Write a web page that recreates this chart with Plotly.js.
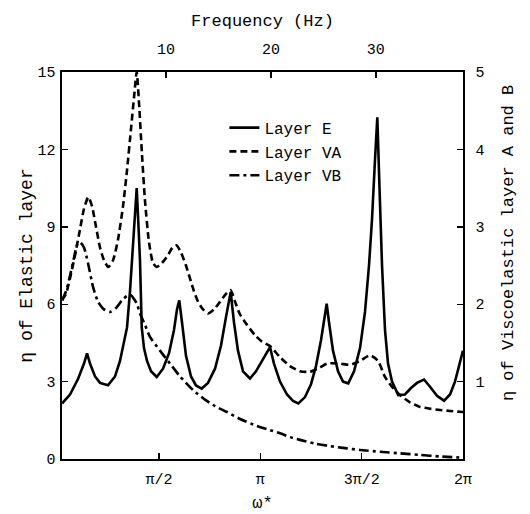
<!DOCTYPE html>
<html>
<head>
<meta charset="utf-8">
<script src="https://cdn.plot.ly/plotly-3.0.1.min.js"></script>
<style>html,body{margin:0;padding:0;background:#fff;}#chart{width:530px;height:514px;}</style>
</head>
<body>
<div id="chart"></div>
<script>
// omega* (rad) and eta of elastic layer E (left axis)
const omegaE = [0.067,0.191,0.315,0.408,0.455,0.501,0.579,0.656,0.780,0.889,0.966,1.028,1.075,1.121,1.152,1.191,1.225,1.253,1.276,1.303,1.338,1.385,1.447,1.535,1.633,1.726,1.803,1.850,1.885,1.927,1.989,2.067,2.144,2.233,2.330,2.439,2.532,2.609,2.682,2.733,2.795,2.873,2.981,3.074,3.167,3.229,3.291,3.353,3.446,3.555,3.648,3.730,3.834,3.927,4.004,4.082,4.128,4.170,4.206,4.268,4.346,4.423,4.505,4.594,4.687,4.764,4.826,4.873,4.919,4.955,4.989,5.028,5.074,5.121,5.183,5.280,5.384,5.477,5.570,5.679,5.772,5.880,5.989,6.082,6.159,6.237,6.283];
const etaE = [2.15,2.5,3.1,3.7,4.09,3.7,3.2,2.95,2.86,3.2,3.8,4.5,5.1,6.5,7.8,9.3,10.5,9.0,7.7,5.1,4.3,3.8,3.4,3.18,3.5,4.1,5.0,5.8,6.15,5.3,4.0,3.2,2.85,2.73,2.95,3.5,4.4,5.5,6.47,5.3,4.2,3.4,3.12,3.4,3.8,4.1,4.34,3.7,3.0,2.5,2.25,2.15,2.4,2.9,3.6,4.6,5.4,6.02,5.3,4.2,3.4,3.0,2.93,3.4,4.3,5.7,7.5,9.3,11.6,13.24,10.5,7.5,5.0,3.7,3.0,2.48,2.5,2.75,2.95,3.08,2.8,2.45,2.26,2.5,3.0,3.7,4.2];

// eta of viscoelastic layer A (right axis)
const omegaVA = [0.067,0.129,0.191,0.269,0.346,0.408,0.475,0.532,0.594,0.656,0.718,0.785,0.858,0.935,1.013,1.075,1.137,1.183,1.225,1.261,1.307,1.354,1.416,1.478,1.535,1.617,1.710,1.780,1.845,1.912,1.989,2.051,2.113,2.175,2.253,2.330,2.424,2.517,2.609,2.679,2.749,2.827,2.935,3.059,3.167,3.291,3.446,3.601,3.756,3.911,4.066,4.175,4.376,4.531,4.687,4.842,4.966,5.074,5.183,5.307,5.462,5.617,5.772,5.927,6.082,6.283];
const etaVA = [2.05,2.133,2.333,2.633,2.967,3.233,3.383,3.267,3.0,2.733,2.567,2.48,2.567,2.833,3.267,3.733,4.267,4.667,5.0,4.6,3.933,3.333,2.8,2.533,2.48,2.533,2.633,2.733,2.76,2.667,2.5,2.333,2.167,2.033,1.933,1.88,1.933,2.033,2.133,2.183,2.033,1.867,1.733,1.6,1.517,1.46,1.317,1.2,1.133,1.127,1.183,1.233,1.233,1.217,1.267,1.34,1.267,1.06,0.933,0.827,0.733,0.673,0.65,0.633,0.62,0.607];

// eta of viscoelastic layer B (right axis)
const omegaVB = [0.067,0.129,0.191,0.253,0.300,0.346,0.408,0.470,0.548,0.625,0.718,0.811,0.904,0.997,1.075,1.137,1.183,1.230,1.276,1.354,1.431,1.586,1.741,1.896,2.098,2.284,2.439,2.625,2.827,3.090,3.291,3.446,3.601,3.756,3.989,4.221,4.454,4.687,4.997,5.307,5.617,5.927,6.283];
const etaVB = [2.05,2.167,2.367,2.6,2.767,2.803,2.733,2.533,2.223,2.033,1.933,1.9,1.95,2.05,2.107,2.117,2.067,2.0,1.88,1.733,1.577,1.4,1.233,1.067,0.89,0.767,0.683,0.607,0.517,0.427,0.373,0.333,0.283,0.247,0.2,0.167,0.14,0.117,0.093,0.073,0.053,0.033,0.017];

const seriesNames = ['Layer E', 'Layer VA', 'Layer VB'];
const omegaTickVals = [Math.PI/2, Math.PI, 3*Math.PI/2, 2*Math.PI];
const omegaTickText = ['π/2', 'π', '3π/2', '2π'];
const freqTicks = [10, 20, 30];
const leftTicks = [0, 3, 6, 9, 12, 15];
const rightTicks = [1, 2, 3, 4, 5];

const FONT = 'Liberation Mono, DejaVu Sans Mono, monospace';

const traces = [
  {x: omegaE, y: etaE, name: seriesNames[0], type: 'scatter', mode: 'lines', xaxis: 'x', yaxis: 'y',
   line: {color: '#000', width: 2.6, shape: 'linear'}},
  {x: omegaVA, y: etaVA, name: seriesNames[1], type: 'scatter', mode: 'lines', xaxis: 'x', yaxis: 'y2',
   line: {color: '#000', width: 2.6, dash: '7px,4px', shape: 'spline', smoothing: 0.6}},
  {x: omegaVB, y: etaVB, name: seriesNames[2], type: 'scatter', mode: 'lines', xaxis: 'x', yaxis: 'y2',
   line: {color: '#000', width: 2.6, dash: '10px,4px,3px,4px', shape: 'spline', smoothing: 0.6}},
  {x: [0.1, 38.3], y: [null, null], xaxis: 'x2', yaxis: 'y', type: 'scatter', mode: 'lines',
   showlegend: false, hoverinfo: 'skip'}
];

const axLine = {showline: true, linecolor: '#000', linewidth: 1.6, ticks: 'inside', ticklen: 6,
  tickwidth: 1.4, tickcolor: '#000', showgrid: false, zeroline: false,
  tickfont: {family: FONT, size: 15, color: '#000'}};

const layout = {
  width: 530, height: 514,
  margin: {l: 62, r: 67, t: 72, b: 55},
  paper_bgcolor: '#fff', plot_bgcolor: '#fff',
  font: {family: FONT, color: '#000', size: 15},
  showlegend: true,
  legend: {x: 0.405, y: 0.9, xanchor: 'left', yanchor: 'top', bgcolor: 'rgba(0,0,0,0)',
    font: {family: FONT, size: 16, color: '#000'}, tracegroupgap: 0},
  xaxis: Object.assign({}, axLine, {range: [0.067, 2*Math.PI], tickvals: omegaTickVals, ticktext: omegaTickText,
    title: {text: 'ω*', font: {family: FONT, size: 17}, standoff: 8}, ticklabelstandoff: 5}),
  xaxis2: Object.assign({}, axLine, {overlaying: 'x', side: 'top', anchor: 'y', range: [0.1, 38.3],
    tickvals: freqTicks, ticklabelstandoff: 10,
    title: {text: 'Frequency (Hz)', font: {family: FONT, size: 17}, standoff: 11}}),
  yaxis: Object.assign({}, axLine, {range: [0, 15], tickvals: leftTicks, ticklabelstandoff: 2,
    title: {text: 'η of Elastic layer', font: {family: FONT, size: 18}, standoff: 0}}),
  yaxis2: Object.assign({}, axLine, {overlaying: 'y', side: 'right', anchor: 'x', range: [0, 5], tickvals: rightTicks,
    ticklabelstandoff: 8}),
  annotations: [{text: 'η of Viscoelastic layer A and B', textangle: -90, xref: 'paper', yref: 'paper',
    x: 1.0, xanchor: 'center', yanchor: 'middle', xshift: 45, y: 0.558, showarrow: false,
    font: {family: FONT, size: 17, color: '#000'}}]
};

Plotly.newPlot('chart', traces, layout, {displayModeBar: false, staticPlot: true});
</script>
</body>
</html>
